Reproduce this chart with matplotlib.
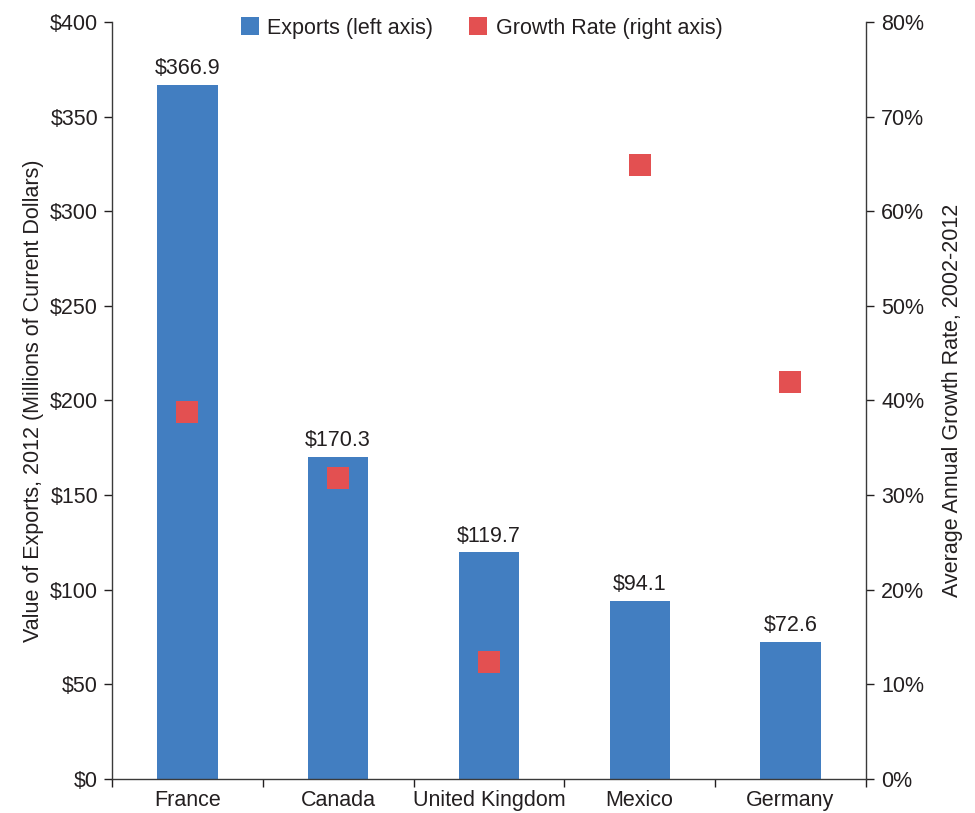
import matplotlib
matplotlib.use("Agg")
import matplotlib.pyplot as plt
from matplotlib.ticker import FuncFormatter
from matplotlib.lines import Line2D

countries = ["France", "Canada", "United Kingdom", "Mexico", "Germany"]
exports = [366.9, 170.3, 119.7, 94.1, 72.6]
growth = [38.8, 31.8, 12.4, 64.9, 42.0]
left_ticks = [0, 50, 100, 150, 200, 250, 300, 350, 400]
right_ticks = [0, 10, 20, 30, 40, 50, 60, 70, 80]

BLUE = "#427EC1"
RED = "#E35051"
INK = "#231F20"
FS = 15.5

plt.rcParams["font.family"] = ["Liberation Sans", "DejaVu Sans"]
plt.rcParams["text.color"] = INK
plt.rcParams["axes.labelcolor"] = INK
plt.rcParams["xtick.color"] = INK
plt.rcParams["ytick.color"] = INK
plt.rcParams["axes.edgecolor"] = "#3a3a3a"

fig = plt.figure(figsize=(9.75, 8.13), dpi=100)
ax = fig.add_axes([0.1149, 0.0418, 0.888 - 0.1149, 0.973 - 0.0418])
ax2 = ax.twinx()

x = list(range(len(countries)))
ax.bar(x, exports, width=0.4, color=BLUE, zorder=2)
for xi, v in zip(x, exports):
    ax.text(xi, v + 3, f"${v:.1f}", ha="center", va="bottom", fontsize=FS, color=INK)

ax2.plot(x, growth, linestyle="none", marker="s", markersize=15.5, color=RED,
         markeredgewidth=0, zorder=3)

ax.set_xlim(-0.5, len(countries) - 0.5)
ax.set_ylim(0, 400)
ax2.set_ylim(0, 80)

ax.set_yticks(left_ticks)
ax.yaxis.set_major_formatter(FuncFormatter(lambda v, p: f"${v:.0f}"))
ax2.set_yticks(right_ticks)
ax2.yaxis.set_major_formatter(FuncFormatter(lambda v, p: f"{v:.0f}%"))

# category boundaries carry the tick marks, names sit centered without ticks
ax.set_xticks([i - 0.5 for i in range(len(countries) + 1)])
ax.set_xticklabels([])
ax.set_xticks(x, minor=True)
ax.set_xticklabels(countries, minor=True)
ax.tick_params(axis="x", which="major", length=6, width=1, direction="out")
ax.tick_params(axis="x", which="minor", length=0, pad=8, labelsize=FS)
ax.tick_params(axis="y", length=6, width=1, direction="out", labelsize=FS, pad=4)
ax2.tick_params(axis="y", length=6, width=1, direction="out", labelsize=FS, pad=5)

for a in (ax, ax2):
    a.spines["top"].set_visible(False)
    for s in ("left", "right", "bottom"):
        a.spines[s].set_linewidth(1)
ax.spines["right"].set_visible(False)
ax2.spines["left"].set_visible(False)
ax2.spines["bottom"].set_visible(False)

ax.set_ylabel("Value of Exports, 2012 (Millions of Current Dollars)", fontsize=FS, labelpad=4)
ax2.set_ylabel("Average Annual Growth Rate, 2002-2012", fontsize=FS, labelpad=13)

handles = [
    Line2D([], [], linestyle="none", marker="s", markersize=12.5, color=BLUE, markeredgewidth=0),
    Line2D([], [], linestyle="none", marker="s", markersize=12.5, color=RED, markeredgewidth=0),
]
fig.legend(handles, ["Exports (left axis)", "Growth Rate (right axis)"],
           loc="center", bbox_to_anchor=(0.493, 0.965), ncol=2, frameon=False,
           fontsize=FS, handletextpad=0.3, columnspacing=1.6, handlelength=1.0,
           borderpad=0)

fig.savefig("out.png", dpi=100)
